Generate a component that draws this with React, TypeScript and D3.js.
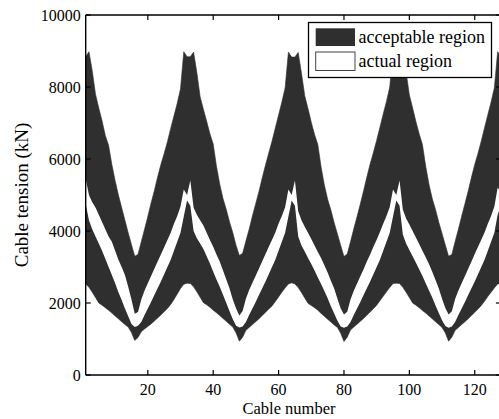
import React from "react";
import * as d3 from "d3";

// cable tension bounds (kN), cables 1..128, four fans of 32
const accUpper = [
  8840, 8980, 8450, 7800, 7420, 7060, 6650, 6380, 5850, 5400, 5000, 4650, 4300, 3950, 3620, 3300,
  3350, 3700, 4050, 4400, 4780, 5120, 5500, 5850, 6150, 6480, 6850, 7200, 7550, 7950, 8980, 8840,
  8840, 8970, 8400, 7730, 7380, 7050, 6700, 6420, 5800, 5300, 4900, 4600, 4250, 3950, 3600, 3320,
  3380, 3720, 4050, 4420, 4760, 5100, 5480, 5830, 6170, 6500, 6860, 7220, 7580, 7980, 8970, 8830,
  8830, 8960, 8380, 7760, 7400, 7020, 6680, 6400, 5780, 5280, 4880, 4580, 4230, 3920, 3600, 3290,
  3360, 3700, 4060, 4400, 4750, 5120, 5500, 5860, 6180, 6520, 6880, 7250, 7600, 8000, 8980, 8840,
  8840, 8990, 8420, 7780, 7420, 7040, 6700, 6400, 5800, 5300, 4900, 4600, 4240, 3930, 3610, 3300,
  3350, 3710, 4050, 4410, 4760, 5110, 5490, 5850, 6160, 6500, 6870, 7230, 7580, 7980, 8980, 8840,
];

const accLower = [
  2530, 2440, 2300, 2150, 2000, 1940, 1870, 1800, 1720, 1640, 1560, 1480, 1400, 1330, 1180, 960,
  1040, 1200, 1280, 1350, 1420, 1500, 1580, 1670, 1760, 1850, 1960, 2100, 2250, 2400, 2520, 2550,
  2540, 2450, 2310, 2160, 2010, 1950, 1880, 1800, 1730, 1650, 1570, 1490, 1410, 1330, 1170, 940,
  1050, 1240, 1320, 1400, 1480, 1560, 1650, 1740, 1830, 1920, 2040, 2170, 2300, 2420, 2530, 2560,
  2530, 2430, 2290, 2140, 1990, 1930, 1870, 1800, 1710, 1630, 1550, 1470, 1390, 1320, 1160, 930,
  1050, 1250, 1330, 1410, 1490, 1570, 1660, 1750, 1840, 1940, 2060, 2190, 2310, 2430, 2540, 2550,
  2540, 2440, 2300, 2150, 2000, 1940, 1870, 1790, 1720, 1640, 1560, 1480, 1400, 1320, 1170, 940,
  1050, 1240, 1320, 1400, 1480, 1560, 1650, 1740, 1830, 1930, 2050, 2180, 2300, 2420, 2530, 2540,
];

const actUpper = [
  5450, 5000, 4800, 4650, 4450, 4250, 4050, 3850, 3700, 3450, 3200, 3000, 2780, 2450, 2100, 1700,
  1750, 2100, 2350, 2550, 2750, 2950, 3150, 3350, 3550, 3750, 3950, 4200, 4420, 4680, 5150, 5000,
  5400, 4650, 4450, 4300, 4150, 3950, 3750, 3560, 3350, 3150, 2900, 2650, 2400, 2100, 1850, 1650,
  1780, 2120, 2360, 2560, 2760, 2960, 3160, 3360, 3560, 3760, 3960, 4210, 4420, 4660, 5150, 5000,
  5400, 4550, 4300, 4120, 3950, 3780, 3600, 3420, 3250, 3050, 2850, 2620, 2400, 2120, 1850, 1680,
  1760, 2100, 2340, 2540, 2740, 2940, 3150, 3350, 3560, 3760, 3970, 4200, 4420, 4670, 5150, 5000,
  5400, 4600, 4350, 4180, 4000, 3820, 3640, 3450, 3270, 3080, 2870, 2640, 2400, 2120, 1860, 1680,
  1770, 2110, 2350, 2550, 2750, 2950, 3150, 3360, 3560, 3760, 3960, 4200, 4420, 4680, 5200, 5100,
];

const actLower = [
  4750, 4300, 4050, 3850, 3650, 3450, 3230, 3000, 2780, 2550, 2300, 2080, 1850, 1630, 1420, 1330,
  1370, 1470, 1670, 1850, 2030, 2220, 2410, 2600, 2800, 3000, 3200, 3450, 3700, 3950, 4400, 4850,
  4700, 4000, 3800, 3650, 3500, 3300, 3100, 2870, 2650, 2450, 2230, 2000, 1770, 1550, 1370, 1320,
  1350, 1470, 1670, 1850, 2030, 2220, 2410, 2600, 2800, 3000, 3200, 3450, 3700, 3950, 4400, 4850,
  4700, 3850, 3600, 3430, 3250, 3080, 2900, 2710, 2530, 2330, 2130, 1910, 1710, 1510, 1350, 1310,
  1350, 1470, 1670, 1850, 2030, 2220, 2410, 2600, 2800, 3000, 3200, 3450, 3700, 3950, 4400, 4850,
  4700, 3900, 3650, 3470, 3300, 3120, 2940, 2750, 2550, 2350, 2150, 1930, 1720, 1520, 1360, 1310,
  1350, 1470, 1670, 1850, 2030, 2220, 2410, 2600, 2800, 3000, 3200, 3450, 3700, 3950, 4450, 4700,
];

const xTicks = [20, 40, 60, 80, 100, 120];
const yTicks = [0, 2000, 4000, 6000, 8000, 10000];
const legendLabels = ["acceptable region", "actual region"];

const W = 499;
const H = 419;
const left = 85.7;
const right = 500.9;
const top = 15;
const bottom = 375;
const font = "'Liberation Serif', 'Times New Roman', serif";
const dark = "#2f2f2f";

export default function App() {
  const x = d3.scaleLinear().domain([1, 128]).range([left, right]);
  const y = d3.scaleLinear().domain([0, 10000]).range([bottom, top]);

  const idx = d3.range(accUpper.length);
  const band = (lo: number[], hi: number[]) =>
    d3
      .area<number>()
      .x((i) => x(i + 1))
      .y0((i) => y(lo[i]))
      .y1((i) => y(hi[i]))(idx) || "";

  const tick = 5;

  return (
    <svg
      width={W}
      height={H}
      style={{ position: "absolute", left: 0, top: 0, background: "#fff" }}
      fontFamily={font}
    >
      <path d={band(accLower, accUpper)} fill={dark} stroke={dark} strokeWidth={0.6} />
      <path d={band(actLower, actUpper)} fill="#fff" />

      {/* frame */}
      <g stroke="#000" strokeWidth={1.4} fill="none">
        <line x1={left} x2={left} y1={top} y2={bottom} />
        <line x1={left} x2={right} y1={bottom} y2={bottom} />
        <line x1={left} x2={right} y1={top} y2={top} />
        <line x1={right} x2={right} y1={top} y2={bottom} />
      </g>

      {/* y ticks */}
      {yTicks.map((t) => (
        <g key={"y" + t}>
          <line x1={left} x2={left + tick} y1={y(t)} y2={y(t)} stroke="#000" strokeWidth={1.2} />
          <line x1={right - tick} x2={right} y1={y(t)} y2={y(t)} stroke="#000" strokeWidth={1.2} />
          <text x={left - 5} y={y(t)} dy="0.35em" textAnchor="end" fontSize={16} fill="#000">
            {t}
          </text>
        </g>
      ))}

      {/* x ticks */}
      {xTicks.map((t) => (
        <g key={"x" + t}>
          <line x1={x(t)} x2={x(t)} y1={bottom} y2={bottom - tick} stroke="#000" strokeWidth={1.2} />
          <line x1={x(t)} x2={x(t)} y1={top} y2={top + tick} stroke="#000" strokeWidth={1.2} />
          <text x={x(t)} y={bottom + 20} textAnchor="middle" fontSize={16} fill="#000">
            {t}
          </text>
        </g>
      ))}

      <text x={289} y={414} textAnchor="middle" fontSize={16.5} fill="#000">
        Cable number
      </text>
      <text
        transform={`translate(28,${(top + bottom) / 2}) rotate(-90)`}
        textAnchor="middle"
        fontSize={19}
        fill="#000"
      >
        Cable tension (kN)
      </text>

      {/* legend */}
      <g>
        <rect x={308.5} y={22.5} width={183} height={55} fill="#fff" stroke="#000" strokeWidth={1.3} />
        <rect x={315.7} y={28.3} width={39.3} height={17.7} fill={dark} />
        <rect x={315.7} y={52} width={39.3} height={18.5} fill="#fff" stroke="#444" strokeWidth={1} />
        <text x={358.5} y={42.5} fontSize={18} fill="#000">
          {legendLabels[0]}
        </text>
        <text x={358.5} y={66.5} fontSize={18} fill="#000">
          {legendLabels[1]}
        </text>
      </g>
    </svg>
  );
}
